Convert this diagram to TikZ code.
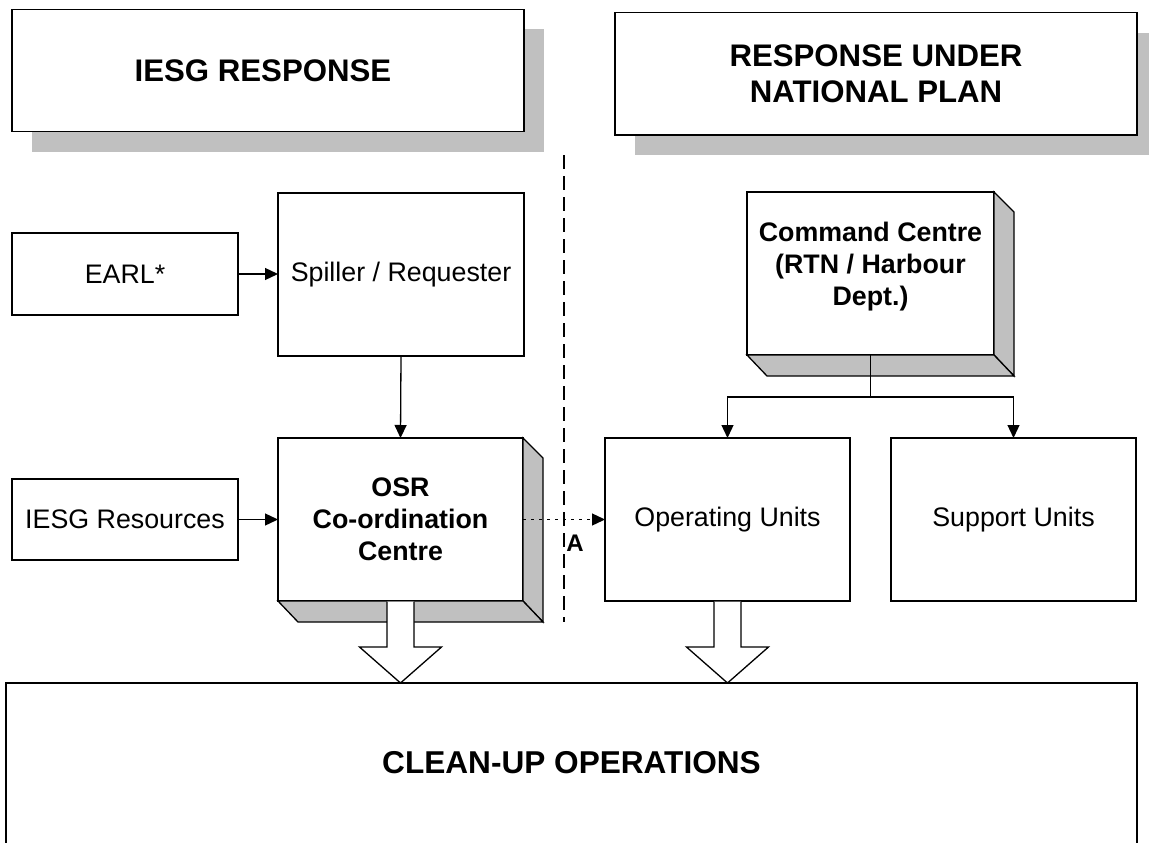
\documentclass[tikz,border=0pt]{standalone}
\usepackage{fontspec}
\setmainfont{Liberation Sans}
\usetikzlibrary{arrows.meta,calc,shadows}
\definecolor{shgray}{HTML}{C0C0C0}
\tikzset{
  box/.style={draw, line width=1.3pt, fill=white, inner sep=0pt, outer sep=0pt,
    align=center, font=\fontsize{26.8}{32}\selectfont},
  boldbox/.style={box, font=\fontsize{26.8}{32}\selectfont\bfseries},
  header/.style={box, font=\fontsize{31.2}{36.7}\selectfont\bfseries,
    drop shadow={shadow xshift=20pt, shadow yshift=-20pt, fill=shgray, opacity=1}},
  face/.style={draw, line width=1.3pt, fill=shgray, line join=miter},
  conn/.style={line width=1.3pt, -{Triangle[length=13pt,width=12pt]}},
  plainline/.style={line width=1.3pt},
  dotconn/.style={conn, dash pattern=on 3pt off 5pt},
  divider/.style={line width=1.3pt, dash pattern=on 14pt off 7pt},
  hollow/.style={draw, fill=white, line width=1.3pt, line join=miter},
}
\newcommand\depthfaces[1]{%
  \filldraw[face] (#1.north east) -- ($(#1.north east)+(20,20)$) -- ($(#1.south east)+(20,21)$) -- (#1.south east) -- cycle;
  \filldraw[face] (#1.south west) -- ($(#1.south west)+(20,21)$) -- ($(#1.south east)+(20,21)$) -- (#1.south east) -- cycle;
}
\begin{document}
\begin{tikzpicture}[x=1pt, y=-1pt]
\useasboundingbox (0,0) rectangle (1149,843);

% headers
\node[header, minimum width=512, minimum height=122] (hdrL) at (268,70.5) {IESG RESPONSE\hspace*{10pt}};
\node[header, minimum width=522, minimum height=122.5] (hdrR) at (876,73.8) {RESPONSE UNDER\\NATIONAL PLAN};

% divider
\coordinate (dtop) at (564,155);
\coordinate (dbot) at (564,622);
\draw[divider] (dtop) -- (dbot);

% left side
\node[box, minimum width=226, minimum height=82] (earl) at (125,274) {EARL*};
\node[box, minimum width=246, minimum height=163] (spiller) at (401,274.5) {Spiller / Requester};
\node[box, minimum width=226, minimum height=81] (res) at (125,519.5) {IESG Resources};
\node[boldbox, minimum width=245, minimum height=163] (osr) at (400.5,519.5) {OSR\\Co-ordination\\Centre};
\depthfaces{osr}

% right side
\node[boldbox, minimum width=247, minimum height=163] (cmd) at (870.5,273.5) {Command Centre\\(RTN / Harbour\\Dept.)\rule[-20pt]{0pt}{20pt}};
\depthfaces{cmd}
\node[box, minimum width=245, minimum height=163] (ou) at (727.5,519.5) {Operating Units};
\node[box, minimum width=245, minimum height=163] (su) at (1013.5,519.5) {Support Units};

% bottom box
\node[inner sep=0pt, outer sep=0pt, minimum width=1131, minimum height=160,
  font=\fontsize{31.6}{38}\selectfont\bfseries] (cleanup) at (571.5,763) {CLEAN-UP OPERATIONS};
\draw[plainline] (cleanup.south west) -- (cleanup.north west) -- (cleanup.north east) -- (cleanup.south east);

% connectors
\draw[conn] (earl.east) -- (spiller.west |- earl.east);
\draw[conn] (spiller.south) -- (osr.north);
\draw[conn] (res.east) -- (osr.west |- res.east);
\draw[dotconn] (osr.east) -- (ou.west |- osr.east);
\node[font=\fontsize{24}{24}\selectfont\bfseries, inner sep=0pt] (lblA) at (575,543) {A};

\coordinate (j) at (870.5,397);
\draw[plainline] (cmd.south) -- (j);
\draw[conn] (j) -| (ou.north);
\draw[conn] (j) -| (su.north);

% hollow arrows
\foreach \n in {osr, ou}{
  \filldraw[hollow] ($(\n.south)+(-13.5,0.7)$) -- ($(\n.south)+(-13.5,46)$) -- ($(\n.south)+(-41,46)$)
    -- (\n.south |- cleanup.north) -- ($(\n.south)+(41,46)$) -- ($(\n.south)+(13.5,46)$) -- ($(\n.south)+(13.5,0.7)$);
}
\end{tikzpicture}
\end{document}
